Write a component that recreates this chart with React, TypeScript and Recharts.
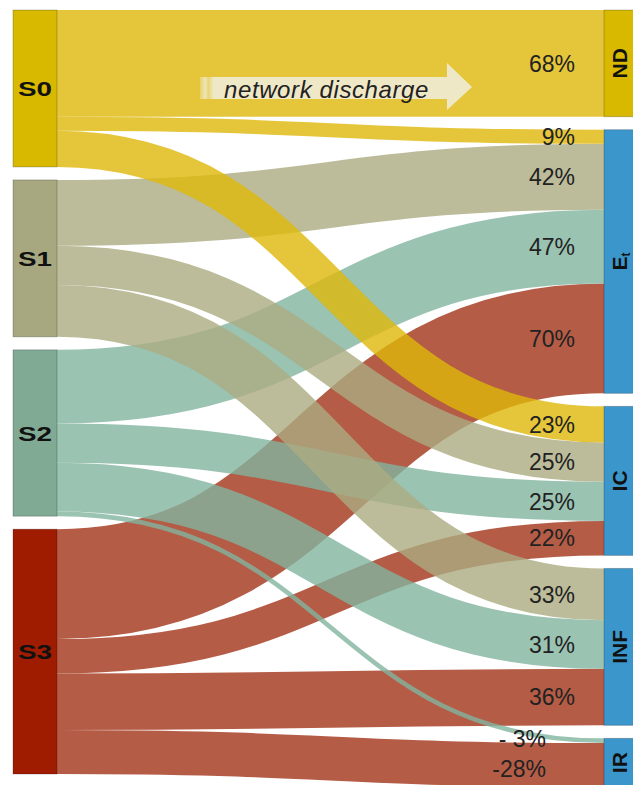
import React from "react";
import { Sankey } from "recharts";

// ---- data ----
const nodeNames = ["S0", "S1", "S2", "S3", "ND", "Et", "IC", "INF", "IR"];
const nodeColors = ["#d8b900", "#a8a880", "#80aa94", "#a01c00", "#d8b900", "#3b96cc", "#3b96cc", "#3b96cc", "#3b96cc"];
const linkColors = ["#deb809", "#abab82", "#82b49f", "#a13318"];

const linkSources = [0, 0, 0, 1, 1, 1, 2, 2, 2, 2, 3, 3, 3, 3];
const linkTargets = [4, 5, 6, 5, 6, 7, 5, 6, 7, 8, 5, 6, 7, 8];
const linkValues = [68, 9, 23, 42, 25, 33, 47, 25, 31, 3, 70, 22, 36, 28];
const linkLabels = ["68%", "9%", "23%", "42%", "25%", "33%", "47%", "25%", "31%", "- 3%", "70%", "22%", "36%", "-28%"];

// links drawn from S3 up to S0 so lighter bands lie on top
const linkOrder = linkSources.map((_, i) => i).sort((a, b) => linkSources[b] - linkSources[a] || a - b);
const data = {
  nodes: nodeNames.map((name) => ({ name })),
  links: linkOrder.map((i) => ({ source: linkSources[i], target: linkTargets[i], value: linkValues[i] })),
};

const FONT = "'Liberation Sans', Arial, sans-serif";

const renderLink = (props: any) => {
  const { sourceX, sourceY, sourceControlX, targetX, targetY, targetControlX, linkWidth, payload } = props;
  const si = nodeNames.indexOf(payload?.source?.name);
  const color = linkColors[si] ?? "#999";
  return (
    <path
      d={`M${sourceX},${sourceY}C${sourceControlX},${sourceY} ${targetControlX},${targetY} ${targetX},${targetY}`}
      fill="none"
      stroke={color}
      strokeWidth={linkWidth}
      strokeOpacity={0.8}
    />
  );
};

const renderNode = (props: any) => {
  const { x, y, width, height, payload } = props;
  const index = nodeNames.indexOf(payload.name);
  const cx = x + width / 2;
  const cy = y + height / 2;
  const isLeft = index < 4;
  const parts: any[] = [
    <rect key="r" x={x} y={y} width={width} height={height} fill={nodeColors[index]} stroke="rgba(0,0,0,0.22)" strokeWidth={1} />,
  ];
  if (isLeft) {
    parts.push(
      <text key="t" x={cx} y={cy} dy="0.36em" textAnchor="middle" fontFamily={FONT} fontWeight="bold" fontSize={21} fill="#111" textLength={34} lengthAdjust="spacingAndGlyphs">
        {payload.name}
      </text>
    );
  } else {
    const lx = cx - 7;
    parts.push(
      <text key="t" x={lx} y={cy} dy="0.36em" textAnchor="middle" fontFamily={FONT} fontWeight="bold" fontSize={21} fill="#111" transform={`rotate(-90 ${lx} ${cy})`}>
        {payload.name === "Et" ? (
          <>
            <tspan>E</tspan>
            <tspan fontSize={12} dy={3}>t</tspan>
          </>
        ) : (
          payload.name
        )}
      </text>
    );
    // labels of incoming links
    const incoming = linkTargets
      .map((t, i) => i)
      .filter((i) => linkTargets[i] === index)
      .sort((a, b) => linkSources[a] - linkSources[b]);
    const total = incoming.reduce((s, i) => s + linkValues[i], 0);
    const k = height / total;
    let cum = 0;
    incoming.forEach((i, j) => {
      const v = linkValues[i];
      const ly = y + (cum + v / 2) * k;
      cum += v;
      const isIR = payload.name === "IR";
      const ex = isIR ? x - 58 : x - 29;
      const off = isIR ? (j === 0 ? -2 : 4) : 0;
      parts.push(
        <text key={`l${i}`} x={ex} y={ly + off} dy="0.36em" textAnchor="end" fontFamily={FONT} fontSize={23} fill="#222">
          {linkLabels[i]}
        </text>
      );
    });
  }
  return <g>{parts}</g>;
};

export default function App() {
  return (
    <div style={{ position: "fixed", left: 0, top: 0, width: 633, height: 785, overflow: "hidden", background: "#fff" }}>
      <Sankey
        width={648}
        height={800}
        data={data}
        nodeWidth={44}
        nodePadding={13}
        iterations={0}
        sort={false}
        linkCurvature={0.5}
        margin={{ top: 10, left: 13, right: 0, bottom: 13 }}
        node={renderNode}
        link={renderLink}
        isAnimationActive={false}
      />
      <svg width={633} height={200} style={{ position: "absolute", left: 0, top: 0, pointerEvents: "none" }}>
        <defs>
          <linearGradient id="arrowFade" x1="0" x2="1" y1="0" y2="0">
            <stop offset="0" stopColor="#efe8c6" stopOpacity={0.35} />
            <stop offset="0.02" stopColor="#efe8c6" stopOpacity={0.9} />
            <stop offset="0.03" stopColor="#efe8c6" stopOpacity={0.4} />
            <stop offset="0.05" stopColor="#efe8c6" stopOpacity={1} />
            <stop offset="1" stopColor="#efe8c6" stopOpacity={1} />
          </linearGradient>
        </defs>
        <path d="M200,77 L447,77 L447,63 L472,87 L447,110 L447,99 L200,99 Z" fill="url(#arrowFade)" />
        <text x={224} y={98} fontFamily={FONT} fontStyle="italic" fontSize={24} fill="#222" letterSpacing={0.6}>
          network discharge
        </text>
      </svg>
    </div>
  );
}
